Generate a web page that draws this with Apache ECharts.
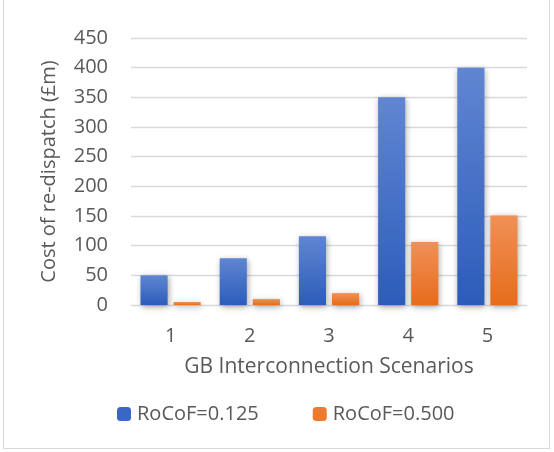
<!DOCTYPE html>
<html><head><meta charset="utf-8">
<script src="https://cdn.jsdelivr.net/npm/echarts@6/dist/echarts.min.js"></script>
<style>
html,body{margin:0;padding:0;background:#fff;}
#frame{position:absolute;left:3px;top:-2px;width:547px;height:451px;border:1px solid #d9d9d9;box-sizing:border-box;}
#c{position:absolute;left:0;top:0;width:554px;height:452px;}
</style></head>
<body><div id="frame"></div><div id="c"></div>
<script>
const categories = ['1','2','3','4','5'];
const rocof0125 = [50, 79, 116, 350, 400];
const rocof0500 = [5, 10, 20, 106, 151];
const seriesNames = ['RoCoF=0.125', 'RoCoF=0.500'];

const font = 'Open Sans, Noto Sans, sans-serif';
const fs = 20;
const grad = (top, bottom) => new echarts.graphic.LinearGradient(0,0,0,1,[{offset:0,color:top},{offset:1,color:bottom}]);
const chart = echarts.init(document.getElementById('c'), null, {renderer:'canvas'});
chart.setOption({
  animation:false,
  grid:{left:131, right:27, top:38, bottom:147, containLabel:false},
  xAxis:{type:'category', data:categories,
    axisLine:{show:true, lineStyle:{color:'#d9d9d9', width:1}},
    axisTick:{show:false},
    axisLabel:{color:'#595959', fontSize:fs, fontFamily:font, margin:21},
    name:'GB Interconnection Scenarios', nameLocation:'middle', nameGap:52,
    nameTextStyle:{color:'#595959', fontSize:21, fontFamily:font}},
  yAxis:{type:'value', min:0, max:450, interval:50,
    axisLine:{show:false}, axisTick:{show:false},
    splitLine:{lineStyle:{color:'#d9d9d9', width:1.3}},
    axisLabel:{color:'#595959', fontSize:fs, fontFamily:font, margin:23},
    name:'Cost of re-dispatch (£m)', nameLocation:'middle', nameGap:72,
    nameTextStyle:{color:'#595959', fontSize:fs, fontFamily:font}},
  legend:{top:399, left:112, itemWidth:14, itemHeight:14, itemGap:54,
    textStyle:{color:'#595959', fontSize:fs, fontFamily:font, padding:[0,0,0,1]},
    data:[{name:seriesNames[0], itemStyle:{color:'#3a67c6'}},{name:seriesNames[1], itemStyle:{color:'#ee7a2e'}}]},
  series:[
    {name:seriesNames[0], type:'bar', data:rocof0125, barGap:'22%', barCategoryGap:'24%',
      itemStyle:{color:grad('#6086d2','#2c5cba'), shadowColor:'rgba(0,0,0,0.35)', shadowBlur:6, shadowOffsetX:1, shadowOffsetY:2}},
    {name:seriesNames[1], type:'bar', data:rocof0500,
      itemStyle:{color:grad('#f09057','#e66c1b'), shadowColor:'rgba(0,0,0,0.35)', shadowBlur:6, shadowOffsetX:1, shadowOffsetY:2}}
  ]
});
</script></body></html>
